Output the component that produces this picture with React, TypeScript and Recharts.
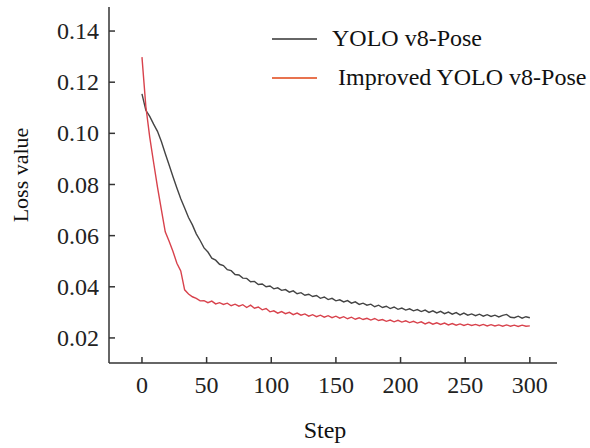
import { LineChart, Line, XAxis, YAxis } from "recharts";

const steps = [
  0, 3, 6, 9, 12, 15, 18, 21, 24, 27, 30, 33, 36, 39, 42, 45, 48, 51, 54, 57,
  60, 63, 66, 69, 72, 75, 78, 81, 84, 87, 90, 93, 96, 99, 102, 105, 108, 111, 114, 117,
  120, 123, 126, 129, 132, 135, 138, 141, 144, 147, 150, 153, 156, 159, 162, 165, 168, 171, 174, 177,
  180, 183, 186, 189, 192, 195, 198, 201, 204, 207, 210, 213, 216, 219, 222, 225, 228, 231, 234, 237,
  240, 243, 246, 249, 252, 255, 258, 261, 264, 267, 270, 273, 276, 279, 282, 285, 288, 291, 294, 297,
  300,
];

const baseLoss = [
  0.1154, 0.109, 0.1066, 0.1036, 0.1008, 0.0968, 0.0921, 0.0876, 0.083, 0.0786,
  0.0744, 0.0708, 0.0671, 0.0642, 0.0607, 0.0581, 0.0552, 0.0536, 0.0512, 0.0504,
  0.0488, 0.0483, 0.0467, 0.0463, 0.0448, 0.0446, 0.0434, 0.0433, 0.042, 0.0421,
  0.0409, 0.0411, 0.04, 0.0403, 0.0392, 0.0396, 0.0386, 0.0389, 0.0379, 0.0384,
  0.0373, 0.0377, 0.0367, 0.0371, 0.0362, 0.0366, 0.0355, 0.036, 0.035, 0.0355,
  0.0345, 0.0349, 0.0341, 0.0346, 0.0336, 0.0341, 0.0331, 0.0336, 0.0328, 0.0332,
  0.0322, 0.0328, 0.0319, 0.0324, 0.0315, 0.0321, 0.0312, 0.0317, 0.0309, 0.0314,
  0.0306, 0.0311, 0.0303, 0.0309, 0.03, 0.0306, 0.0298, 0.0304, 0.0295, 0.0301,
  0.0293, 0.0299, 0.029, 0.0297, 0.0289, 0.0294, 0.0287, 0.0293, 0.0285, 0.0291,
  0.0284, 0.0289, 0.0282, 0.0288, 0.0292, 0.0281, 0.0279, 0.0285, 0.0277, 0.0283,
  0.0279,
];

const improvedLoss = [
  0.1298, 0.1105, 0.0985, 0.0886, 0.079, 0.0702, 0.0615, 0.0578, 0.0538, 0.0492,
  0.0462, 0.0388, 0.0372, 0.0361, 0.0355, 0.0345, 0.0346, 0.0338, 0.0344, 0.0333,
  0.0338, 0.0331, 0.0336, 0.0326, 0.0332, 0.0324, 0.033, 0.0319, 0.0328, 0.0316,
  0.0321, 0.031, 0.0315, 0.0302, 0.0306, 0.0297, 0.0303, 0.0295, 0.03, 0.0291,
  0.0297, 0.0289, 0.0294, 0.0285, 0.0291, 0.0283, 0.0289, 0.0281, 0.0287, 0.0279,
  0.0285, 0.0277, 0.0283, 0.0275, 0.0281, 0.0273, 0.0279, 0.0272, 0.0277, 0.027,
  0.0276, 0.0268, 0.0272, 0.0265, 0.027, 0.0263, 0.0269, 0.0262, 0.0267, 0.026,
  0.0265, 0.0258, 0.0263, 0.0255, 0.0261, 0.0254, 0.0259, 0.0253, 0.0258, 0.0251,
  0.0256, 0.025, 0.0255, 0.0249, 0.0254, 0.0249, 0.0253, 0.0248, 0.0253, 0.0247,
  0.0252, 0.0247, 0.0251, 0.0246, 0.0251, 0.0246, 0.025, 0.0245, 0.025, 0.0246,
  0.0247,
];

const xTicks = [0, 50, 100, 150, 200, 250, 300];
const yTicks = [0.02, 0.04, 0.06, 0.08, 0.1, 0.12, 0.14];

const seriesNames = ["YOLO v8-Pose", " Improved YOLO v8-Pose"];
const legendColors = ["#666666", "#e8734f"];

const FONT = '"Liberation Serif", "Times New Roman", serif';

const data = steps.map((step, i) => ({
  step,
  base: baseLoss[i],
  improved: improvedLoss[i],
}));

const XTick = ({ x, y, payload }: any) => (
  <text x={x} y={y} dy="0.71em" textAnchor="middle" fill="#222" fontSize={24} fontFamily={FONT}>
    {payload.value}
  </text>
);

const YTick = ({ x, y, payload }: any) => (
  <text x={x} y={y} dy="0.34em" textAnchor="end" fill="#222" fontSize={24} fontFamily={FONT}>
    {Number(payload.value).toFixed(2)}
  </text>
);

// legend sits over the plot, top right, outside recharts' layout
const LegendBox = () => (
  <div
    style={{
      position: "absolute",
      left: 272,
      top: 19,
      fontFamily: FONT,
      fontSize: 24,
      color: "#111",
    }}
  >
    {seriesNames.map((name, i) => (
      <div key={name} style={{ display: "flex", alignItems: "center", height: 39 }}>
        <span
          style={{
            display: "inline-block",
            width: 45,
            height: 2,
            background: legendColors[i],
            marginRight: 15,
          }}
        />
        <span style={{ whiteSpace: "pre" }}>{name}</span>
      </div>
    ))}
  </div>
);

export default function App() {
  return (
    <div style={{ position: "absolute", left: 0, top: 0, width: 590, height: 448, background: "#fff" }}>
      <LineChart
        width={590}
        height={448}
        data={data}
        margin={{ top: 7, right: 33, left: 0, bottom: 0 }}
        style={{ fontFamily: FONT }}
      >
        <XAxis
          dataKey="step"
          type="number"
          domain={[-25.5, 321]}
          ticks={xTicks}
          allowDataOverflow
          height={85}
          stroke="#333"
          strokeWidth={1.5}
          tickSize={-6}
          tickMargin={19}
          tick={<XTick />}
          label={{
            content: () => (
              <text x={325} y={438} textAnchor="middle" fill="#111" fontSize={24} fontFamily={FONT}>
                Step
              </text>
            ),
          }}
        />
        <YAxis
          type="number"
          domain={[0.0102, 0.1494]}
          ticks={yTicks}
          allowDataOverflow
          width={109}
          stroke="#333"
          strokeWidth={1.5}
          tickSize={-6}
          tickMargin={16}
          tick={<YTick />}
          label={{
            content: () => (
              <text
                x={28}
                y={175}
                transform="rotate(-90 28 175)"
                textAnchor="middle"
                fill="#111"
                fontSize={22}
                fontFamily={FONT}
              >
                Loss value
              </text>
            ),
          }}
        />
        <Line
          type="linear"
          dataKey="base"
          stroke="#444"
          strokeWidth={1.4}
          dot={false}
          isAnimationActive={false}
        />
        <Line
          type="linear"
          dataKey="improved"
          stroke="#d8424c"
          strokeWidth={1.4}
          dot={false}
          isAnimationActive={false}
        />
      </LineChart>
      <LegendBox />
    </div>
  );
}
